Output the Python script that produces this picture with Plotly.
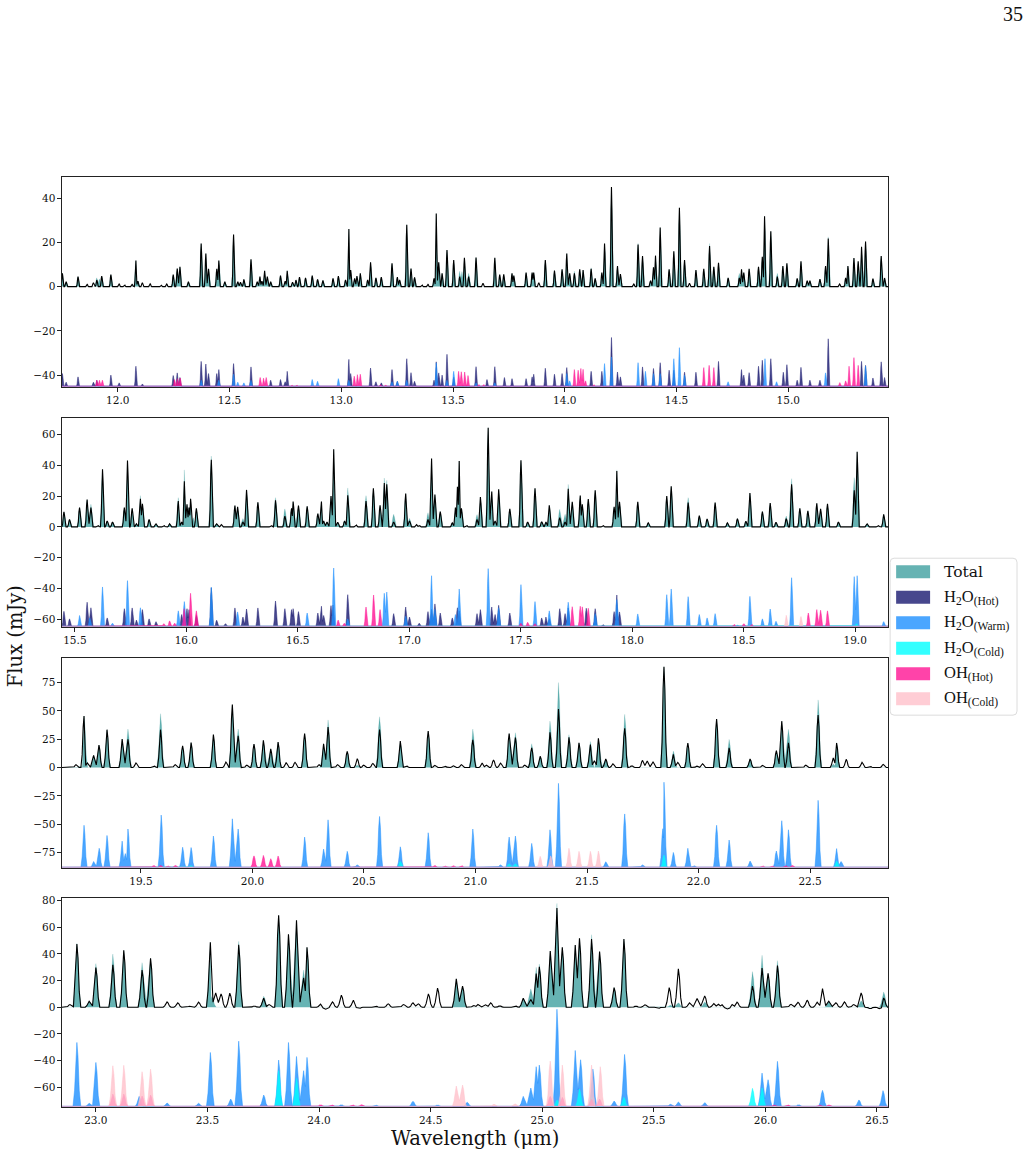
import plotly.graph_objects as go

# Line positions (um) and strengths (mJy). Component strengths are heights above each panel's offset.
obs_1 = [(11.752,6.0),(11.769,2.2),(11.822,4.5),(11.863,1),(11.891,1.8),(11.906,3),(11.928,4.8),(11.969,5.4),(12.006,1.2),(12.03,.9),(12.064,1),(12.081,11.8),(12.09,2.5),(12.11,1.8),(12.145,1.3),(12.194,.8),(12.219,1.2),(12.248,5.4),(12.266,8.2),(12.278,9),(12.316,2.2),(12.373,19.5),(12.394,15),(12.406,8),(12.443,8),(12.452,11.8),(12.479,2.2),(12.518,23.5),(12.537,2.2),(12.549,2),(12.564,3.3),(12.596,12.3),(12.624,2.2),(12.636,4.5),(12.645,2.5),(12.657,7.2),(12.669,4.5),(12.684,2.2),(12.728,5),(12.749,2.5),(12.758,7.2),(12.782,2),(12.797,3),(12.813,4.3),(12.84,4),(12.87,5),(12.894,3.3),(12.918,2.8),(12.963,3.7),(12.987,4.8),(13.019,3),(13.034,26),(13.042,7.5),(13.06,3.7),(13.07,4.8),(13.085,6),(13.118,3),(13.131,11),(13.155,4),(13.179,4.3),(13.227,10.5),(13.251,4.3),(13.261,3),(13.293,28),(13.312,8.2),(13.328,4.2),(13.361,.9),(13.388,1),(13.415,3.7),(13.425,33),(13.436,11),(13.451,6),(13.473,16.5),(13.503,12),(13.53,4.5),(13.551,13),(13.57,4.5),(13.603,13.2),(13.634,1.5),(13.687,13),(13.709,5.4),(13.727,5.5),(13.764,6),(13.772,5),(13.827,6.3),(13.854,6.3),(13.861,6.3),(13.884,1.8),(13.913,12),(13.954,7.2),(13.988,7.8),(14.009,15),(14.022,6),(14.043,6),(14.067,7.8),(14.082,7.5),(14.118,8),(14.136,3.7),(14.166,6.3),(14.178,19.5),(14.209,45),(14.236,9.3),(14.249,5.7),(14.309,1.2),(14.328,19),(14.348,13.8),(14.384,2.7),(14.397,8.7),(14.406,14),(14.427,26.7),(14.467,7.8),(14.488,16),(14.513,35.7),(14.536,12),(14.558,1.5),(14.587,7.5),(14.622,8),(14.648,18.3),(14.667,9),(14.688,10.8),(14.731,4),(14.781,4),(14.791,7.8),(14.801,6.3),(14.825,8),(14.867,9),(14.884,13.5),(14.894,31.8),(14.922,25),(14.951,4.5),(14.976,9.3),(14.994,10.5),(15.04,3.7),(15.057,11.4),(15.085,2.7),(15.097,2.7),(15.142,3.4),(15.167,9.3),(15.179,21.7),(15.23,1.2),(15.257,4),(15.267,9.3),(15.294,12.9),(15.313,11.4),(15.328,18),(15.346,20.4),(15.379,3.6),(15.416,13.8),(15.431,3.9)]
total_extra_1 = {11.906:4,11.918:3.5,13.53:7,13.54:6.8,13.57:6,14.328:19.6,14.043:7,14.118:8.5,14.648:19.5,15.179:22.5,14.781:6,14.951:6}
hot_1 = [(11.752,5.7),(11.769,1.8),(11.822,4.2),(11.891,1.8),(11.906,2.7),(11.969,5),(12.006,1.5),(12.081,9),(12.11,1),(12.248,4.8),(12.266,6),(12.278,3.9),(12.373,11.2),(12.394,10),(12.406,5.7),(12.443,5.7),(12.452,7.5),(12.518,10.2),(12.596,8.7),(12.684,2.7),(12.728,3),(12.749,2),(12.758,6.7),(13.034,12.1),(13.042,5.7),(13.131,8.2),(13.155,2),(13.179,1.5),(13.227,7.5),(13.251,2.2),(13.293,12.4),(13.312,6.1),(13.328,2.2),(13.415,2.7),(13.425,11),(13.436,6),(13.451,5),(13.473,14.4),(13.503,4),(13.603,8.8),(13.652,3),(13.687,8.8),(13.73,3.9),(13.764,3.4),(13.827,3.4),(13.854,4.2),(13.861,5.4),(13.913,8.1),(13.954,5.4),(13.988,5.7),(14.009,8.4),(14.118,6.7),(14.166,6.7),(14.209,22),(14.236,6.4),(14.249,4.2),(14.348,8.7),(14.397,8),(14.427,10.6),(14.467,7.2),(14.488,7.2),(14.536,6.3),(14.587,6.3),(14.688,11.2),(14.791,7.5),(14.801,5),(14.825,6.1),(14.867,9),(14.884,11.7),(14.922,12.4),(14.978,6.3),(14.994,9.7),(15.04,2.7),(15.057,8.5),(15.097,2.7),(15.142,2.7),(15.179,21.4),(15.328,11.2),(15.346,9.4),(15.379,3.7),(15.416,11),(15.431,3.9)]
warm_1 = [(12.373,2.7),(12.452,2.7),(12.518,5.4),(12.537,1.8),(12.564,1.5),(12.596,2.7),(12.87,3),(12.894,2.2),(12.987,3.4),(13.034,2.7),(13.227,2),(13.251,2.2),(13.293,2.7),(13.425,10.5),(13.473,2.7),(13.503,6.7),(13.603,1.5),(13.687,1.5),(14.009,5.7),(14.022,2.4),(14.178,10.2),(14.209,13.2),(14.328,10.6),(14.361,6.7),(14.397,5.7),(14.427,5.7),(14.488,12.4),(14.513,17.4),(14.536,5),(14.731,2),(14.896,12.4),(14.948,2),(15.167,6),(15.346,9.1)]
oh_hot_1 = [(11.906,2.7),(11.918,2.7),(11.931,2.7),(12.254,3),(12.267,3.4),(12.279,3.7),(12.637,3.9),(12.652,3.6),(12.664,3.9),(12.779,.5),(12.801,.5),(13.058,4.5),(13.072,5.2),(13.085,5.4),(13.175,.8),(13.198,.6),(13.525,6.7),(13.537,6.5),(13.552,6.4),(13.567,4.8),(13.615,.9),(13.637,.9),(14.043,7.5),(14.06,7.2),(14.072,8),(14.082,7.6),(14.093,2.4),(14.13,.8),(14.622,8.4),(14.646,9.4),(14.667,8.4),(15.231,1.6),(15.257,2.4),(15.272,9),(15.294,12.9),(15.313,9.4)]

obs_2 = [(15.451,9.7),(15.476,4.8),(15.521,12.5),(15.555,17.7),(15.572,12.5),(15.603,1),(15.624,37.4),(15.645,3.9),(15.669,3.2),(15.722,12.5),(15.736,43),(15.757,12),(15.776,2),(15.794,18.3),(15.803,15),(15.833,4.8),(15.864,2),(15.899,1),(15.925,2),(15.964,16.8),(15.979,3.2),(15.991,29.6),(16.003,14.7),(16.012,12.5),(16.019,18.3),(16.045,12),(16.112,43.6),(16.136,2),(16.157,1.5),(16.218,13.8),(16.23,13),(16.254,3.2),(16.27,24),(16.321,16),(16.381,1),(16.4,17.3),(16.442,7),(16.472,12),(16.479,16.4),(16.503,13.8),(16.542,13.4),(16.59,8.6),(16.606,16.4),(16.616,3.9),(16.631,3.2),(16.649,20),(16.661,50.3),(16.679,3),(16.71,3.9),(16.724,20.5),(16.761,1.5),(16.806,16.8),(16.839,25),(16.869,14),(16.888,28.5),(16.899,27.6),(16.93,3.2),(16.984,21.6),(17.001,3.9),(17.033,1.5),(17.045,1),(17.084,4.8),(17.1,44.3),(17.115,21),(17.139,10),(17.193,2.6),(17.207,12.5),(17.216,26),(17.224,42.8),(17.234,12),(17.257,1),(17.304,4.8),(17.319,19.4),(17.354,64.4),(17.37,23),(17.385,3.9),(17.401,24.4),(17.451,11.7),(17.501,43.2),(17.531,3.2),(17.564,25),(17.594,3.4),(17.613,3.2),(17.628,14),(17.675,6),(17.699,3.2),(17.713,24.8),(17.731,16.2),(17.767,20.3),(17.776,14.7),(17.803,18),(17.834,23.8),(17.869,1),(17.919,13),(17.931,36.3),(17.943,16.2),(18.025,16.2),(18.072,2.6),(18.155,20),(18.175,26.3),(18.251,15.8),(18.301,7.3),(18.336,5.2),(18.372,15.8),(18.427,2.6),(18.472,5.4),(18.51,3.7),(18.528,22),(18.584,10),(18.619,15.5),(18.645,3),(18.691,5.4),(18.715,27.6),(18.752,12),(18.788,10.4),(18.828,15.3),(18.845,11.7),(18.876,14.9),(18.925,3.2),(18.996,23.8),(19.009,48.8),(19.054,2),(19.103,1),(19.128,8.2)]
total_extra_2 = {15.991:37,16.112:46,16.4:19,16.442:11.7,16.806:20.3,16.724:25.3,16.888:31.7,16.899:30.2,16.93:8.2,15.794:20.3,15.572:14.7,16.254:5.4,17.084:9.2,17.001:5.6,17.304:8,17.713:27.6,17.675:11.4,17.699:8.2,18.251:19,17.931:37,18.715:31.3,18.996:32,18.691:7,16.031:6,15.964:19}
hot_2 = [(15.451,9.7),(15.476,4.8),(15.555,15.6),(15.572,12),(15.645,5.4),(15.722,11.4),(15.757,11.9),(15.776,4),(15.803,10.8),(15.833,4.8),(15.864,3),(15.979,7.6),(16.003,11.4),(16.012,10.8),(16.045,7),(16.112,25),(16.136,3.9),(16.176,1.7),(16.218,11.9),(16.254,6),(16.27,11.2),(16.321,11.9),(16.4,16.4),(16.442,11.4),(16.472,10.8),(16.479,11.4),(16.503,9.5),(16.59,8.6),(16.606,13),(16.616,7),(16.649,13.4),(16.658,13.8),(16.724,20.5),(16.93,8.2),(16.984,12.5),(17.001,6),(17.045,2),(17.084,9.5),(17.1,11),(17.115,14.5),(17.139,8.6),(17.193,5.4),(17.216,12),(17.224,10),(17.304,8.2),(17.319,10.8),(17.37,12.5),(17.385,7.6),(17.401,13.6),(17.451,8.6),(17.594,5.4),(17.613,6),(17.628,5),(17.675,11.4),(17.699,8.2),(17.713,11.9),(17.794,11.7),(17.834,11.4),(17.869,1.3),(17.919,9.5),(17.931,20.3),(17.943,9.3)]
warm_2 = [(15.521,7),(15.567,5.4),(15.624,25.5),(15.669,2),(15.736,29.6),(15.794,12),(15.964,10),(15.991,16),(16.112,25.3),(16.23,9.3),(16.542,8.6),(16.661,37.8),(16.724,4.8),(16.888,21.4),(16.899,22.2),(16.984,6.5),(17.1,32.8),(17.115,11),(17.207,7.6),(17.224,24.2),(17.354,37.4),(17.401,12),(17.501,27),(17.564,16),(17.628,10),(17.713,15.6),(17.834,8.2),(17.931,17.3),(18.025,8),(18.155,20.5),(18.175,24.2),(18.251,19.2),(18.301,7.6),(18.336,5.4),(18.372,8.2),(18.472,1),(18.528,19.4),(18.584,4.8),(18.619,11.2),(18.645,3.2),(18.715,31.5),(18.996,32.2),(19.009,32.8),(19.128,3)]
cold_2 = [(19.006,1.7)]
oh_hot_2 = [(15.899,1.7),(15.925,3.5),(15.948,2),(15.99,11.4),(16.019,21.4),(16.045,10),(16.681,4),(16.709,2),(16.806,12.5),(16.84,20.3),(16.869,10.8),(17.501,2),(17.531,2.6),(17.564,1.7),(17.731,12.7),(17.767,13),(17.776,12.6),(17.803,11.7),(18.457,1.5),(18.501,1.7),(18.536,1.5),(18.79,8.6),(18.828,10.8),(18.845,10.4),(18.876,10)]
oh_cold_2 = [(18.691,7.1),(18.757,6.3)]

obs_3 = [(19.209,2.4),(19.245,45.4),(19.26,4),(19.288,10.7),(19.312,19.7),(19.348,33.4),(19.416,25),(19.442,24.8),(19.478,4),(19.558,1.5),(19.588,33.4),(19.654,2.4),(19.687,19),(19.725,22),(19.825,29),(19.881,4.8),(19.91,55.5),(19.936,28),(19.975,2),(20.007,20.6),(20.049,24),(20.082,16.4),(20.115,22.4),(20.151,4.2),(20.191,4.5),(20.234,30),(20.299,2.4),(20.319,21),(20.339,35.8),(20.382,2.4),(20.425,14.3),(20.47,7.8),(20.499,2),(20.54,3.6),(20.57,33.4),(20.663,23.3),(20.69,1.5),(20.788,32.2),(20.818,1.8),(20.863,1.2),(20.901,1.5),(20.937,2.4),(20.988,24.5),(21.03,3.9),(21.049,2),(21.081,6.6),(21.112,3.9),(21.151,30),(21.179,26.5),(21.221,2),(21.252,17.3),(21.29,9.9),(21.334,31),(21.372,51.6),(21.419,26.6),(21.464,21.8),(21.515,20.3),(21.533,6),(21.551,25.7),(21.584,7.5),(21.616,3.3),(21.669,34.6),(21.701,1.5),(21.749,6.3),(21.77,5.7),(21.796,4.8),(21.845,89),(21.887,11.6),(21.907,4.5),(21.952,21.5),(21.993,1.2),(22.018,3.3),(22.081,42.7),(22.137,17.3),(22.231,7.5),(22.287,1.8),(22.349,15),(22.373,40.9),(22.403,21.8),(22.481,2),(22.536,46.3),(22.604,8.4),(22.619,21.5),(22.662,7.2),(22.733,4.5),(22.769,1),(22.828,2.7)]
total_extra_3 = {19.442:34,19.588:47.5,19.936:34,20.339:42,20.57:44.8,20.988:34,21.179:30.7,21.252:21,21.334:41,21.372:75,21.419:29,21.515:23,21.669:46.9,21.887:14.6,22.137:24.8,22.403:33.7,22.536:59.7,20.47:2,22.604:3,22.619:22,19.23:1}
total_omit_3 = {21.081,21.749,21.77,21.796,22.662,22.604}
warm_3 = [(19.245,37),(19.288,5),(19.313,16.7),(19.348,28),(19.416,23),(19.43,12),(19.442,33.7),(19.591,46),(19.687,17.6),(19.725,17.3),(19.825,27.5),(19.91,42.7),(19.936,33.7),(20.234,26.6),(20.319,16),(20.339,41.8),(20.425,14),(20.47,2),(20.57,44.8),(20.663,18),(20.788,30.4),(20.988,33.7),(21.112,2),(21.151,26.6),(21.179,27.5),(21.252,21),(21.334,33),(21.372,74),(21.584,4.8),(21.669,47),(21.749,2),(21.84,34),(21.845,75),(21.887,13),(21.952,16.7),(21.98,1.5),(22.081,37),(22.137,24),(22.231,5.4),(22.349,14.3),(22.373,41),(22.403,33),(22.536,59),(22.619,16.4),(22.639,5)]
cold_3 = [(19.725,1.5),(20.663,5),(21.151,3),(21.179,3),(21.845,10.7),(22.619,5.4)]
oh_hot_3 = [(19.558,1.5),(19.588,1.5),(19.62,1.2),(19.654,1.5),(20.007,10),(20.049,10.4),(20.082,7.5),(20.115,9.9),(20.818,1.5),(20.863,1.2),(20.901,1.2),(20.937,1.5),(22.287,1.2),(22.33,1.2),(22.39,1.5),(22.42,1.5)]
oh_cold_3 = [(21.29,9.6),(21.337,10),(21.419,16.7),(21.464,14),(21.515,14),(21.551,14.3)]

obs_4 = [(22.884,2),(22.915,47.5),(22.97,4.5),(23,29.8),(23.076,31.8),(23.125,42.8),(23.207,28),(23.245,36.8),(23.319,4),(23.367,3.3),(23.42,.7),(23.46,3.8),(23.513,48.8),(23.537,10.8),(23.561,10),(23.6,10.5),(23.64,47),(23.71,.9),(23.752,6.8),(23.776,2),(23.819,69),(23.863,54.8),(23.899,65.3),(23.931,22),(23.946,45),(24.007,2.3),(24.03,-1.5),(24.06,4),(24.1,9),(24.154,5.3),(24.18,-1),(24.254,.8),(24.31,2.5),(24.379,2),(24.421,3.3),(24.445,2.5),(24.49,10),(24.531,14.3),(24.615,21.3),(24.643,15.8),(24.694,1.2),(24.712,2),(24.746,1.8),(24.769,3.3),(24.81,1),(24.879,1),(24.915,6.8),(24.949,5.8),(24.973,25.3),(24.987,30.3),(25.036,42.3),(25.066,74.5),(25.09,45),(25.148,46.8),(25.167,51.8),(25.221,51.3),(25.257,41.8),(25.322,14.8),(25.366,51.3),(25.42,.8),(25.46,1.8),(25.52,-1),(25.569,14.8),(25.61,28.8),(25.66,3.3),(25.694,6.5),(25.728,8.5),(25.769,2.7),(25.79,2.2),(25.806,1.8),(25.83,-1.3),(25.851,2),(25.873,3.8),(25.942,15.8),(25.985,29.5),(26.012,25.5),(26.054,31.3),(26.115,2.2),(26.146,3.7),(26.187,5.3),(26.232,3.7),(26.256,14),(26.284,4.5),(26.316,3.3),(26.354,4),(26.396,2),(26.429,10.8),(26.47,-1.2),(26.51,-1),(26.53,7)]
total_extra_4 = {22.915:48,23:32.8,23.076:40,23.207:33.5,23.64:49.5,23.752:8.3,23.931:28,24.949:13.8,24.973:30,24.987:32.5,25.066:78,25.221:54.5,25.942:26.8,25.985:39,26.054:35,26.53:11.5,23.52:8,25.575:1.5,25.61:3.3,26.429:4.8,25.728:4}
total_omit_4 = {23.537,23.561,23.6,24.1,24.154,24.49,24.531,25.569,25.694,25.66,26.187,26.256}
warm_4 = [(22.915,48),(22.97,2.3),(23,33),(23.194,7.5),(23.319,2.5),(23.46,2.3),(23.513,40.5),(23.604,5.5),(23.64,49),(23.752,8.5),(23.819,34.8),(23.863,48),(23.899,37.5),(23.931,26.8),(23.946,36.8),(24.1,1.3),(24.254,1),(24.421,3.8),(24.531,1),(24.664,3),(24.915,7.5),(24.949,13.8),(24.973,29.8),(24.987,31),(25.066,73),(25.148,42),(25.172,35),(25.227,28),(25.322,4),(25.369,39),(25.575,1.5),(25.61,3.3),(25.728,2.8),(25.985,25),(26.012,20),(26.054,33.8),(26.149,1.3),(26.256,12),(26.419,4.8),(26.527,11.8)]
cold_4 = [(23.819,26.8),(23.899,21),(25.066,4.8),(25.167,13),(25.221,6.8),(25.366,6.8),(25.942,13.5),(25.985,13.8)]
oh_hot_4 = [(23.076,9.3),(23.125,9.3),(23.207,7.8),(23.245,8.5),(24.007,1.2),(24.057,1.2),(24.15,1.2),(24.19,1.2),(25.036,7.5),(25.09,6.8),(25.221,5.5),(25.257,5.5),(26.04,1),(26.1,1.2),(26.243,1),(26.284,1)]
oh_cold_4 = [(23.076,30.5),(23.125,30.8),(23.207,26),(23.245,28),(24.615,15.3),(24.643,16),(24.784,1.5),(24.879,1.8),(25.036,34),(25.09,31),(25.221,31),(25.26,29.8)]

panels = [
    dict(obs=obs_1, extra=total_extra_1, omit=set(), floor=2, hot=hot_1, warm=warm_1, cold=[], oh_hot=oh_hot_1, oh_cold=[],
         xr=(11.75,15.447), yr=(-45.5,49.4), base=-45, top=177, bot=387, hw=.0068, total_w=1.5,
         xt=[12,12.5,13,13.5,14,14.5,15], yt=[-40,-20,0,20,40]),
    dict(obs=obs_2, extra=total_extra_2, omit=set(), floor=2, hot=hot_2, warm=warm_2, cold=cold_2, oh_hot=oh_hot_2, oh_cold=oh_cold_2,
         xr=(15.442,19.148), yr=(-65.1,70.5), base=-64.5, top=418, bot=627, hw=.0092, total_w=1.35,
         xt=[15.5,16,16.5,17,17.5,18,18.5,19], yt=[-60,-40,-20,0,20,40,60]),
    dict(obs=obs_3, extra=total_extra_3, omit=total_omit_3, floor=6.5, hot=[], warm=warm_3, cold=cold_3, oh_hot=oh_hot_3, oh_cold=oh_cold_3,
         xr=(19.146,22.85), yr=(-88.8,96.5), base=-88, top=658, bot=868, hw=.014, total_w=1.2,
         xt=[19.5,20,20.5,21,21.5,22,22.5], yt=[-75,-50,-25,0,25,50,75]),
    dict(obs=obs_4, extra=total_extra_4, omit=total_omit_4, floor=4.5, hot=[], warm=warm_4, cold=cold_4, oh_hot=oh_hot_4, oh_cold=oh_cold_4,
         xr=(22.848,26.55), yr=(-75,82), base=-74.5, top=898, bot=1107, hw=.0175, total_w=1.1,
         xt=[23,23.5,24,24.5,25,25.5,26,26.5], yt=[-60,-40,-20,0,20,40,60,80]),
]

TOTAL = "rgba(0,128,128,0.6)"
COMPONENTS = [("hot", "rgba(25,25,112,0.8)"), ("warm", "rgba(30,144,255,0.8)"), ("cold", "rgba(0,255,255,0.8)"),
              ("oh_hot", "rgba(255,20,147,0.8)"), ("oh_cold", "rgba(255,192,203,0.8)")]
SERIF = "DejaVu Serif"
W, H = 1028, 1155


def px(x):
    """Page x in pixels to a paper fraction."""
    return (x + 1) / W


def py(y):
    """Page y in pixels to a paper fraction."""
    return 1 - (y - 3.6) / (H - 3.6)


def profile(peaks, hw, base, xr):
    """Polyline through the line centres, with flanks dropping back to the continuum."""
    peaks = sorted(peaks)
    xs, ys = [xr[0]], [base]
    flank = [(1.0, 0.0), (0.6, 0.25), (0.28, 0.78)]
    for i, (w, h) in enumerate(peaks):
        gap_l = w - peaks[i - 1][0] if i else 9
        gap_r = peaks[i + 1][0] - w if i + 1 < len(peaks) else 9
        if gap_l >= 2 * hw:
            for d, f in flank:
                xs.append(w - d * hw)
                ys.append(base + f * h)
        else:
            level = max(0.1, 0.1 + 0.8 * (1 - gap_l / (2 * hw)))
            xs.append(w - gap_l / 2)
            ys.append(base + level * min(h, peaks[i - 1][1]))
        xs.append(w)
        ys.append(base + h)
        if gap_r >= 2 * hw:
            for d, f in reversed(flank):
                xs.append(w + d * hw)
                ys.append(base + f * h)
    xs.append(xr[1])
    ys.append(base)
    return xs, ys


fig = go.Figure()
layout = {}
for n, p in enumerate(panels, start=1):
    suffix = "" if n == 1 else str(n)
    xa, ya = "x" + suffix, "y" + suffix
    total = {w: f for w, f in p["obs"] if f >= p["floor"] and w not in p["omit"]}
    total.update(p["extra"])
    xs, ys = profile(list(total.items()), p["hw"] * p["total_w"], 0, p["xr"])
    fig.add_trace(go.Scatter(x=xs, y=ys, xaxis=xa, yaxis=ya, mode="lines", fill="toself", fillcolor=TOTAL,
                             line=dict(color="rgba(0,128,128,0.25)", width=0.5), name="Total", showlegend=False, hoverinfo="skip"))
    for key, colour in COMPONENTS:
        if p[key]:
            xs, ys = profile(p[key], p["hw"], p["base"], p["xr"])
            fig.add_trace(go.Scatter(x=xs, y=ys, xaxis=xa, yaxis=ya, mode="lines", fill="toself", fillcolor=colour,
                                     line=dict(color=colour, width=0.6), name=key, showlegend=False, hoverinfo="skip"))
    xs, ys = profile(p["obs"], p["hw"], 0, p["xr"])
    fig.add_trace(go.Scatter(x=xs, y=ys, xaxis=xa, yaxis=ya, mode="lines", line=dict(color="black", width=1.1),
                             name="Observed", showlegend=False, hoverinfo="skip"))
    common = dict(showline=True, mirror=True, linecolor="#222", linewidth=1, showgrid=False, zeroline=False,
                  ticks="outside", ticklen=3.5, tickwidth=1, tickcolor="#222",
                  tickfont=dict(family=SERIF, size=10.5, color="#111"))
    layout["xaxis" + suffix] = dict(common, domain=[px(61), px(888)], range=list(p["xr"]), anchor=ya,
                                    tickvals=p["xt"], ticktext=[f"{t:.1f}" for t in p["xt"]])
    layout["yaxis" + suffix] = dict(common, domain=[py(p["bot"]), py(p["top"])], range=list(p["yr"]), anchor=xa,
                                    tickvals=p["yt"])

# Legend panel, laid out in page fractions beside the spectra
LEGEND_LABELS = ["Total", "H<sub>2</sub>O<sub>(Hot)</sub>", "H<sub>2</sub>O<sub>(Warm)</sub>",
                 "H<sub>2</sub>O<sub>(Cold)</sub>", "OH<sub>(Hot)</sub>", "OH<sub>(Cold)</sub>"]
LEGEND_COLOURS = [TOTAL] + [c for _, c in COMPONENTS]
LEGEND_ROWS = [571.5, 597, 622.5, 648, 673.5, 698.5]

x0, x1, y0, y1, r = 890, 1017, 558, 715, 4
outline = (f"M{px(x0 + r)},{py(y0)} L{px(x1 - r)},{py(y0)} Q{px(x1)},{py(y0)} {px(x1)},{py(y0 + r)} "
           f"L{px(x1)},{py(y1 - r)} Q{px(x1)},{py(y1)} {px(x1 - r)},{py(y1)} L{px(x0 + r)},{py(y1)} "
           f"Q{px(x0)},{py(y1)} {px(x0)},{py(y1 - r)} L{px(x0)},{py(y0 + r)} Q{px(x0)},{py(y0)} {px(x0 + r)},{py(y0)} Z")
shapes = [dict(type="path", xref="paper", yref="paper", path=outline, fillcolor="white",
               line=dict(color="#dcdcdc", width=1), layer="above")]
annotations = []
for label, colour, row in zip(LEGEND_LABELS, LEGEND_COLOURS, LEGEND_ROWS):
    shapes.append(dict(type="rect", xref="paper", yref="paper", x0=px(896), x1=px(930), y0=py(row - 6.5), y1=py(row + 6.5),
                       fillcolor=colour, line=dict(width=0), layer="above"))
    plain = label == "Total"
    annotations.append(dict(xref="paper", yref="paper", x=px(942), y=py(row), text=label, showarrow=False, xanchor="left",
                            yanchor="middle", font=dict(family=SERIF if plain else "Liberation Serif", size=15.5 if plain else 16.5, color="#111")))

annotations += [
    dict(xref="paper", yref="paper", x=px(474), y=py(1138), text="Wavelength (μm)", showarrow=False,
         xanchor="center", yanchor="middle", font=dict(family=SERIF, size=19.5, color="#111")),
    dict(xref="paper", yref="paper", x=px(14), y=py(636), text="Flux (mJy)", showarrow=False, textangle=-90,
         xanchor="center", yanchor="middle", font=dict(family=SERIF, size=19.5, color="#111")),
    dict(xref="paper", yref="paper", x=px(1013), y=py(14), text="35", showarrow=False,
         xanchor="center", yanchor="middle", font=dict(family="Liberation Serif", size=20, color="#111")),
]

fig.update_layout(width=W, height=H, margin=dict(l=0, r=0, t=0, b=0), autosize=False, paper_bgcolor="white",
                  plot_bgcolor="white", showlegend=False, shapes=shapes, annotations=annotations, **layout)
fig.write_html("out.html")
